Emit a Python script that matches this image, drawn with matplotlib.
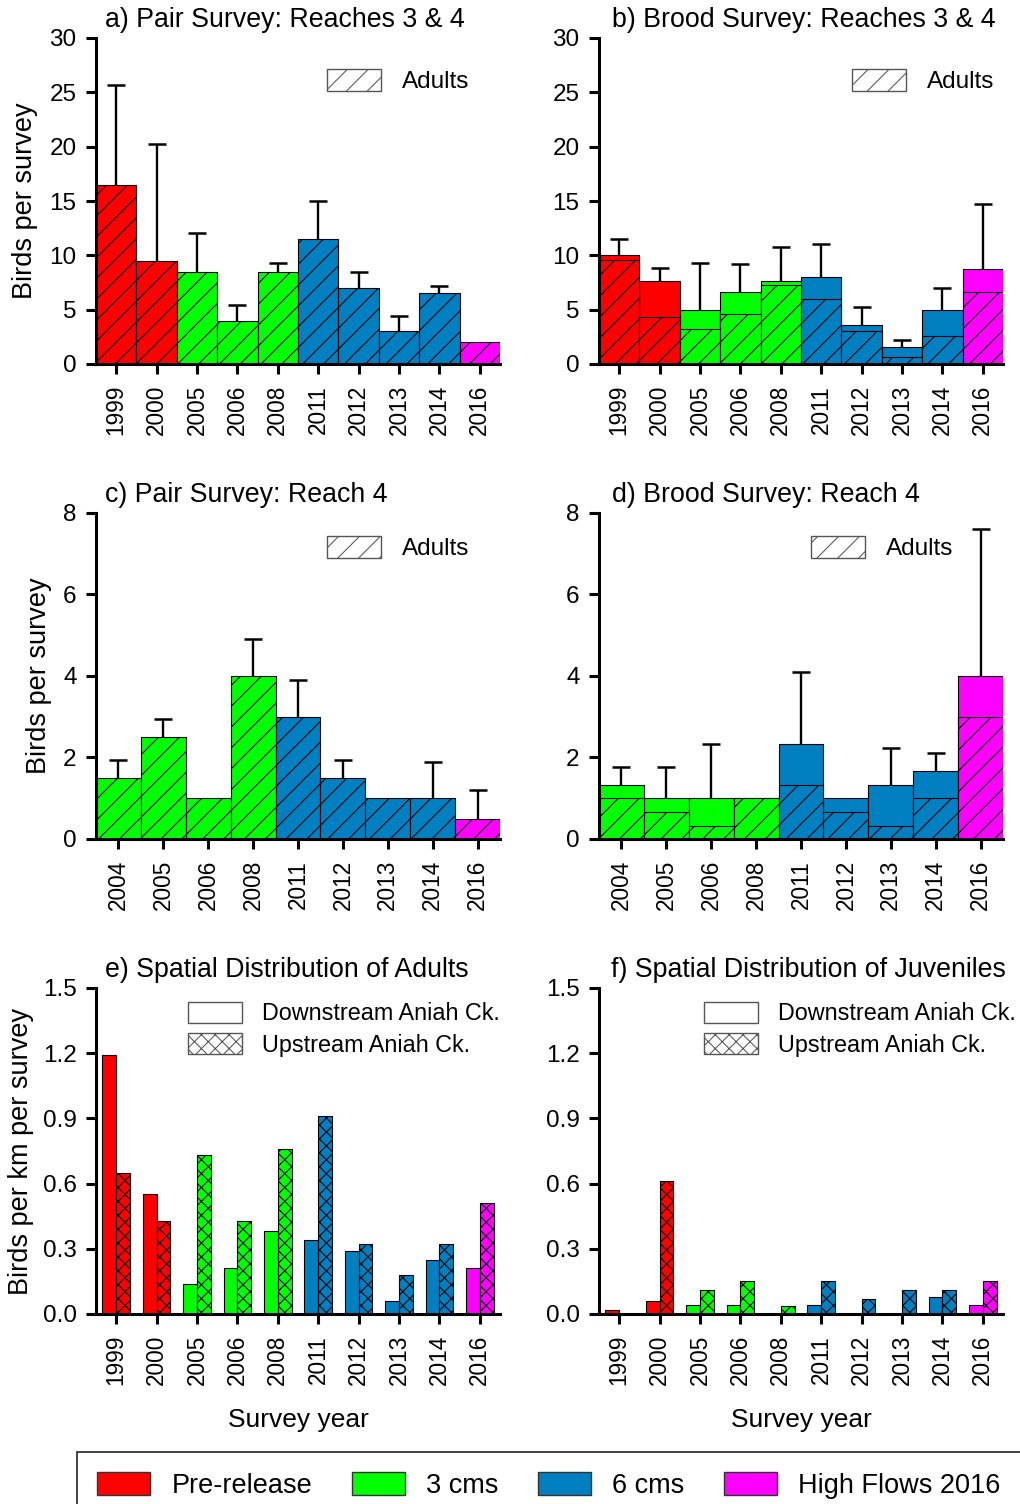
import numpy as np
import matplotlib
matplotlib.use("Agg")
import matplotlib.pyplot as plt
from matplotlib.patches import Patch
from matplotlib.ticker import FormatStrFormatter

DPI = 125
P = 100.0 / DPI  # scale for sizes designed at 100 dpi

plt.rcParams['font.family'] = ['Liberation Sans', 'DejaVu Sans']
plt.rcParams['hatch.linewidth'] = 0.6

# ---------------- data ----------------
years_ab = ['1999', '2000', '2005', '2006', '2008', '2011', '2012', '2013', '2014', '2016']
periods_ab = ['pre', 'pre', '3', '3', '3', '6', '6', '6', '6', 'hf']
years_cd = ['2004', '2005', '2006', '2008', '2011', '2012', '2013', '2014', '2016']
periods_cd = ['3', '3', '3', '3', '6', '6', '6', '6', 'hf']

# a) Pair survey reaches 3&4 (all adults)
a_total = [16.5, 9.5, 8.5, 4.0, 8.5, 11.5, 7.0, 3.0, 6.5, 2.0]
a_err = [9.2, 10.7, 3.6, 1.4, 0.8, 3.5, 1.5, 1.4, 0.7, 0.0]

# b) Brood survey reaches 3&4
b_total = [10.0, 7.6, 5.0, 6.6, 7.6, 8.0, 3.6, 1.6, 5.0, 8.7]
b_adult = [9.6, 4.3, 3.2, 4.6, 7.3, 6.0, 3.0, 0.6, 2.6, 6.6]
b_err = [1.5, 1.2, 4.3, 2.6, 3.2, 3.0, 1.6, 0.6, 2.0, 6.0]

# c) Pair survey reach 4
c_total = [1.5, 2.5, 1.0, 4.0, 3.0, 1.5, 1.0, 1.0, 0.5]
c_err = [0.45, 0.45, 0.0, 0.9, 0.9, 0.45, 0.0, 0.9, 0.7]

# d) Brood survey reach 4
d_total = [1.33, 1.0, 1.0, 1.0, 2.33, 1.0, 1.33, 1.67, 4.0]
d_adult = [1.0, 0.67, 0.33, 1.0, 1.33, 0.67, 0.33, 1.0, 3.0]
d_err = [0.44, 0.77, 1.33, 0.0, 1.77, 0.0, 0.9, 0.43, 3.6]

# e) Spatial distribution of adults
e_down = [1.19, 0.55, 0.14, 0.21, 0.38, 0.34, 0.29, 0.06, 0.25, 0.21]
e_up = [0.65, 0.43, 0.73, 0.43, 0.76, 0.91, 0.32, 0.18, 0.32, 0.51]

# f) Spatial distribution of juveniles
f_down = [0.02, 0.06, 0.04, 0.04, 0.0, 0.04, 0.0, 0.0, 0.08, 0.04]
f_up = [0.0, 0.61, 0.11, 0.15, 0.035, 0.15, 0.07, 0.11, 0.11, 0.15]

period_colors = {'pre': '#FF0000', '3': '#00FF00', '6': '#0080C0', 'hf': '#FF00FF'}
period_labels = {'pre': 'Pre-release', '3': '3 cms', '6': '6 cms', 'hf': 'High Flows 2016'}

# ---------------- figure ----------------
W, H = 1021.0, 1504.0
fig = plt.figure(figsize=(W / DPI, H / DPI), dpi=DPI)


def rect(l, t, r, b):
    return [l / W, 1 - b / H, (r - l) / W, (b - t) / H]


ax_a = fig.add_axes(rect(96, 38, 500, 364))
ax_b = fig.add_axes(rect(599, 38, 1003, 364))
ax_c = fig.add_axes(rect(96, 513, 500, 839))
ax_d = fig.add_axes(rect(599, 513, 1003, 839))
ax_e = fig.add_axes(rect(96, 988, 500, 1314))
ax_f = fig.add_axes(rect(599, 988, 1003, 1314))

TICK_FS = 17.5 * P
XT_FS = 16.3 * P
TITLE_FS = 19.3 * P
LAB_FS = 19.5 * P
SP_LW = 2.2 * P
BAR_LW = 0.8 * P
HATCH_LINE = '//'
HATCH_CROSS = 'xxx'


def style_axes(ax, years, ylim, yticks, fmt=None):
    for s in ['top', 'right']:
        ax.spines[s].set_visible(False)
    for s in ['left', 'bottom']:
        ax.spines[s].set_linewidth(SP_LW)
    ax.set_xlim(-0.5, len(years) - 0.5)
    ax.set_ylim(*ylim)
    ax.set_yticks(yticks)
    if fmt:
        ax.yaxis.set_major_formatter(FormatStrFormatter(fmt))
    ax.set_xticks(np.arange(len(years)))
    ax.set_xticklabels(years, rotation=90, fontsize=XT_FS)
    ax.tick_params(axis='y', direction='out', length=7 * P, width=SP_LW, pad=7 * P, labelsize=TICK_FS)
    ax.tick_params(axis='x', direction='out', length=7 * P, width=SP_LW, pad=8 * P)


def title(ax, text, dx_px):
    ax.annotate(text, xy=(0, 1), xycoords='axes fraction', xytext=(dx_px * 72 / DPI, 11 * 72 / DPI),
                textcoords='offset points', fontsize=TITLE_FS, ha='left', va='baseline')


def errbars(ax, x, tops, errs):
    x = np.asarray(x, dtype=float)
    tops = np.asarray(tops, dtype=float)
    errs = np.asarray(errs, dtype=float)
    m = errs > 0
    eb = ax.errorbar(x[m], tops[m], yerr=[np.zeros(m.sum()), errs[m]], fmt='none',
                     ecolor='black', elinewidth=1.7 * P, capsize=6.8 * P, capthick=1.8 * P, zorder=1)
    eb.lines[1][0].set_visible(False)


def adults_legend(ax, xfrac, yfrac):
    h = [Patch(facecolor='white', edgecolor='#555555', hatch=HATCH_LINE, linewidth=1.0 * P)]
    ax.legend(h, ['Adults'], loc='upper left', bbox_to_anchor=(xfrac, yfrac), frameon=False,
              fontsize=17.5 * P, handlelength=2.22, handleheight=1.0, handletextpad=0.85,
              borderpad=0, borderaxespad=0)


x = np.arange(len(years_ab))
cols_ab = [period_colors[p] for p in periods_ab]
cols_cd = [period_colors[p] for p in periods_cd]

# a)
ax_a.bar(x, a_total, width=1.0, color=cols_ab, edgecolor='black', linewidth=BAR_LW, hatch=HATCH_LINE, zorder=2)
errbars(ax_a, x, a_total, a_err)
style_axes(ax_a, years_ab, (0, 30), np.arange(0, 31, 5))
title(ax_a, 'a) Pair Survey: Reaches 3 & 4', 9)
ax_a.set_ylabel('Birds per survey', fontsize=LAB_FS, labelpad=8 * P)
adults_legend(ax_a, (327 - 96) / 404, (364 - 69) / 326)

# b)
ax_b.bar(x, b_total, width=1.0, color=cols_ab, edgecolor='black', linewidth=BAR_LW, zorder=2)
ax_b.bar(x, b_adult, width=1.0, color=cols_ab, edgecolor='black', linewidth=BAR_LW, hatch=HATCH_LINE, zorder=2)
errbars(ax_b, x, b_total, b_err)
style_axes(ax_b, years_ab, (0, 30), np.arange(0, 31, 5))
title(ax_b, 'b) Brood Survey: Reaches 3 & 4', 13)
adults_legend(ax_b, (852 - 599) / 404, (364 - 69) / 326)

# c)
xc = np.arange(len(years_cd))
ax_c.bar(xc, c_total, width=1.0, color=cols_cd, edgecolor='black', linewidth=BAR_LW, hatch=HATCH_LINE, zorder=2)
errbars(ax_c, xc, c_total, c_err)
style_axes(ax_c, years_cd, (0, 8), np.arange(0, 9, 2))
title(ax_c, 'c) Pair Survey: Reach 4', 9)
ax_c.set_ylabel('Birds per survey', fontsize=LAB_FS, labelpad=8 * P)
adults_legend(ax_c, (327 - 96) / 404, (839 - 536) / 326)

# d)
ax_d.bar(xc, d_total, width=1.0, color=cols_cd, edgecolor='black', linewidth=BAR_LW, zorder=2)
ax_d.bar(xc, d_adult, width=1.0, color=cols_cd, edgecolor='black', linewidth=BAR_LW, hatch=HATCH_LINE, zorder=2)
errbars(ax_d, xc, d_total, d_err)
style_axes(ax_d, years_cd, (0, 8), np.arange(0, 9, 2))
title(ax_d, 'd) Brood Survey: Reach 4', 13)
adults_legend(ax_d, (811 - 599) / 404, (839 - 536) / 326)


# e) & f)
def spatial_legend(ax, xfrac, yfrac):
    h = [Patch(facecolor='white', edgecolor='#555555', linewidth=1.0 * P),
         Patch(facecolor='white', edgecolor='#555555', hatch=HATCH_CROSS, linewidth=1.0 * P)]
    ax.legend(h, ['Downstream Aniah Ck.', 'Upstream Aniah Ck.'], loc='upper left',
              bbox_to_anchor=(xfrac, yfrac), frameon=False, fontsize=16.8 * P,
              handlelength=2.3, handleheight=1.0, handletextpad=0.88, labelspacing=0.33,
              borderpad=0, borderaxespad=0)


bw = 0.34
for ax, down, up, ttl, dx, lx in [(ax_e, e_down, e_up, 'e) Spatial Distribution of Adults', 9, (188 - 96) / 404),
                                  (ax_f, f_down, f_up, 'f) Spatial Distribution of Juveniles', 12, (704 - 599) / 404)]:
    ax.bar(x - bw / 2, down, width=bw, color=cols_ab, edgecolor='black', linewidth=BAR_LW, zorder=2)
    ax.bar(x + bw / 2, up, width=bw, color=cols_ab, edgecolor='black', linewidth=BAR_LW, hatch=HATCH_CROSS, zorder=2)
    style_axes(ax, years_ab, (0, 1.5), np.arange(0, 1.51, 0.3), fmt='%.1f')
    title(ax, ttl, dx)
    ax.set_xlabel('Survey year', fontsize=19 * P, labelpad=16 * P)
    spatial_legend(ax, lx, (1314 - 1002) / 326)

ax_e.set_ylabel('Birds per km per survey', fontsize=LAB_FS, labelpad=6 * P)

# bottom legend
handles = [Patch(facecolor=period_colors[k], edgecolor='#333333', linewidth=1.0 * P) for k in ['pre', '3', '6', 'hf']]
labels = [period_labels[k] for k in ['pre', '3', '6', 'hf']]
leg = fig.legend(handles, labels, loc='upper left', bbox_to_anchor=(77 / W, 1 - 1452 / H), ncol=4,
                 frameon=True, fancybox=False, edgecolor='black', fontsize=19.5 * P,
                 handlelength=1.95, handleheight=0.9, handletextpad=0.8, columnspacing=1.45,
                 borderpad=0.75, borderaxespad=0)
leg.get_frame().set_linewidth(1.3 * P)

fig.savefig('out.png', dpi=DPI)
